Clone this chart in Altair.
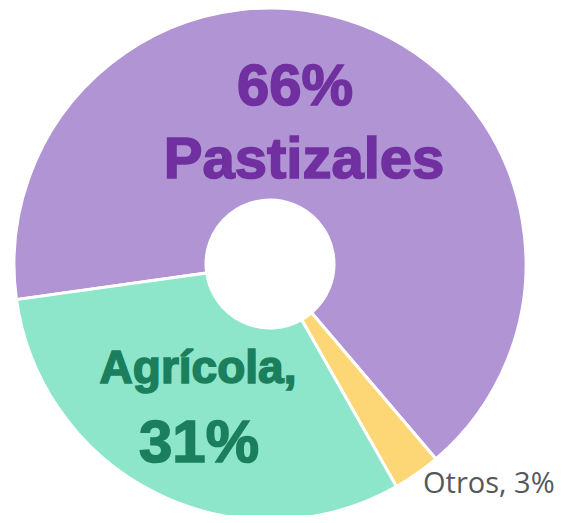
import altair as alt
import pandas as pd

categories = ["Pastizales", "Otros", "Agrícola"]
values = [66, 3, 31]
colors = ["#B194D4", "#FDD775", "#8EE6CA"]

df = pd.DataFrame({"cat": categories, "value": values, "idx": list(range(len(categories)))})

start = 262 / 180 * 3.141592653589793
two_pi = 2 * 3.141592653589793

cx, cy = 262, 256

arcs = alt.Chart(df).mark_arc(
    radius=256, radius2=64, stroke="white", strokeWidth=3
).encode(
    theta=alt.Theta("value:Q", stack=True, scale=alt.Scale(range=[start, start + two_pi])),
    order=alt.Order("idx:Q"),
    color=alt.Color("cat:N", scale=alt.Scale(domain=categories, range=colors), legend=None),
    x=alt.value(cx),
    y=alt.value(cy),
)

vals = dict(zip(categories, values))
labels = pd.DataFrame({
    "t": [f"{vals['Pastizales']}%", "Pastizales", "Agrícola,", f"{vals['Agrícola']}%", f"Otros, {vals['Otros']}%"],
})

def txt(i, x, y, size, color, font="Liberation Sans", weight="bold", align="center", sw=1.6):
    return alt.Chart(labels.iloc[[i]]).mark_text(
        font=font, fontSize=size, fontWeight=weight, color=color, align=align, baseline="alphabetic",
        stroke=color, strokeWidth=sw
    ).encode(text="t:N", x=alt.value(x), y=alt.value(y))

layers = [
    arcs,
    txt(0, 287, 97, 58, "#7030A0"),
    txt(1, 296, 170, 58, "#7030A0"),
    txt(2, 190, 375, 46, "#1B7F5E"),
    txt(3, 191, 454, 60, "#1B7F5E"),
    txt(4, 415, 485, 29, "#55585D", font="Open Sans", weight="normal", align="left", sw=0),
]

chart = alt.layer(*layers).properties(
    width=553, height=507, padding=0, autosize="none", background="white"
).configure_view(strokeWidth=0, stroke="transparent")

chart.save("out.html", embed_options={"renderer": "svg", "actions": False})
